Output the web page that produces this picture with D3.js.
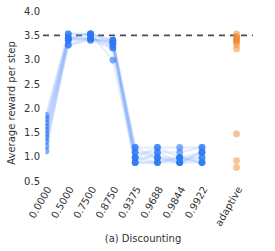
<!DOCTYPE html>
<html><head><meta charset="utf-8">
<script src="https://cdn.jsdelivr.net/npm/d3@7"></script>
<style>body{margin:0;background:#fff}svg{display:block}</style>
</head><body>
<script>
const categories = ["0.0000","0.5000","0.7500","0.8750","0.9375","0.9688","0.9844","0.9922"];
const runs = [
  [1.85,3.53,3.53,3.40,1.19,1.19,1.19,1.19],
  [1.78,3.53,3.53,3.40,1.09,1.09,1.09,1.19],
  [1.70,3.44,3.53,3.34,1.09,0.98,0.88,1.09],
  [1.62,3.44,3.44,3.34,0.98,0.98,0.98,1.09],
  [1.55,3.44,3.44,3.30,0.98,0.88,0.98,0.98],
  [1.47,3.40,3.44,3.24,0.88,1.09,0.88,0.88],
  [1.40,3.40,3.40,3.24,0.88,0.88,0.98,0.88],
  [1.32,3.30,3.40,3.40,1.19,0.98,0.88,0.98],
  [1.22,3.30,3.44,3.34,0.98,1.19,0.98,0.88],
  [1.12,3.44,3.53,2.99,0.88,0.88,0.88,1.09]
];
const adaptiveLabel = "adaptive";
const adaptiveValues = [3.53,3.48,3.45,3.44,3.42,3.40,3.38,3.36,3.30,3.22,1.47,0.92,0.78];
const yTicks = [0.5,1.0,1.5,2.0,2.5,3.0,3.5,4.0];
const refLine = 3.5;
const yLabel = "Average reward per step";
const xTitle = "(a) Discounting";

const W = 275, H = 251;
const svg = d3.select("body").append("svg").attr("width", W).attr("height", H)
  .style("font-family", "'DejaVu Sans', sans-serif");

const x = d3.scaleLinear().domain([0, 7]).range([46, 202]);
const xPos = d => d === adaptiveLabel ? x(8.55) : x(categories.indexOf(d));
const y = d3.scaleLinear().domain([0.5, 4.0]).range([181, 11]);

svg.append("defs").append("clipPath").attr("id", "clip")
  .append("rect").attr("x", 45.5).attr("y", 0).attr("width", 210).attr("height", 200);

const yAxis = d3.axisLeft(y).tickValues(yTicks).tickFormat(d3.format(".1f")).tickSize(0).tickPadding(4);
const ga = svg.append("g").attr("transform", "translate(40,0)").call(yAxis);
ga.select(".domain").remove();
ga.selectAll("text").attr("font-size", 10).attr("fill", "#333").attr("font-family", "'DejaVu Sans', sans-serif").attr("x", 0).attr("text-anchor", "end");

svg.append("line").attr("x1", 43).attr("x2", 253).attr("y1", y(refLine)).attr("y2", y(refLine))
  .attr("stroke", "#4d4d4d").attr("stroke-width", 1.8).attr("stroke-dasharray", "6,5");

const g = svg.append("g").attr("clip-path", "url(#clip)");
const line = d3.line().x((d, i) => xPos(categories[i])).y(d => y(d));
runs.forEach(r => {
  g.append("path").attr("d", line(r)).attr("fill", "none")
    .attr("stroke", "#6a9ef7").attr("stroke-opacity", 0.16).attr("stroke-width", 2.4);
});
runs.forEach(r => {
  r.forEach((v, i) => {
    g.append("circle").attr("cx", xPos(categories[i])).attr("cy", y(v)).attr("r", 3.4)
      .attr("fill", "#2a78f4").attr("fill-opacity", 0.6);
  });
});
adaptiveValues.forEach(v => {
  svg.append("circle").attr("cx", xPos(adaptiveLabel)).attr("cy", y(v)).attr("r", 3.4)
    .attr("fill", "#f28a2e").attr("fill-opacity", 0.5);
});

[...categories, adaptiveLabel].forEach(c => {
  svg.append("text").attr("transform", `translate(${xPos(c) + 6},${189}) rotate(-60)`)
    .attr("text-anchor", "end").attr("font-size", 10).attr("fill", "#333").text(c);
});

svg.append("text").attr("transform", "translate(15,103) rotate(-90)").attr("text-anchor", "middle")
  .attr("font-size", 10).attr("fill", "#333").text(yLabel);
svg.append("text").attr("x", 143).attr("y", 242).attr("text-anchor", "middle")
  .attr("font-size", 10).attr("fill", "#333").text(xTitle);
</script>
</body></html>
